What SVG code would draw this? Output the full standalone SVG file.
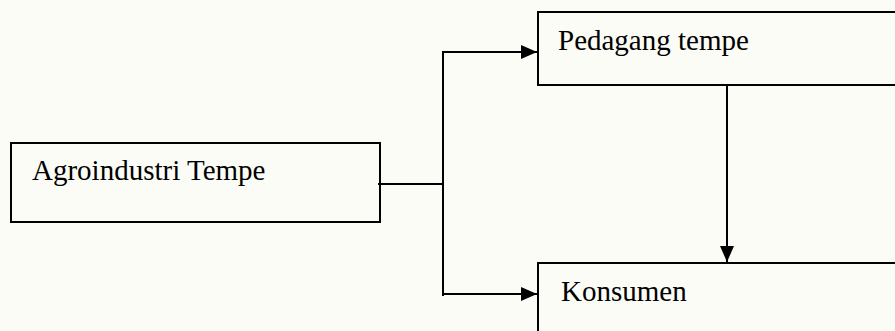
<svg xmlns="http://www.w3.org/2000/svg" width="895" height="331" viewBox="0 0 895 331">
<style>
.box{fill:none;stroke:#000;stroke-width:2}
.lbl{font-family:"Liberation Serif","Times New Roman",serif;font-size:29px;fill:#000}
.ln{fill:none;stroke:#000;stroke-width:2}
</style>
<defs>
<marker id="ah" viewBox="0 0 16 14" refX="16" refY="7" markerWidth="16" markerHeight="14" markerUnits="userSpaceOnUse" orient="auto">
<path d="M0,0 L16,7 L0,14 Z" fill="#000"/>
</marker>
</defs>
<rect width="895" height="331" fill="#fcfcf7"/>
<g id="agroindustri">
<rect class="box" x="11" y="143" width="369" height="79"/>
<text class="lbl" x="32" y="180">Agroindustri Tempe</text>
</g>
<g id="pedagang">
<rect class="box" x="538" y="12" width="370" height="73"/>
<text class="lbl" x="558" y="50">Pedagang tempe</text>
</g>
<g id="konsumen">
<rect class="box" x="538" y="263" width="370" height="80"/>
<text class="lbl" x="561" y="301">Konsumen</text>
</g>
<g id="connectors">
<path class="ln" d="M378,184 H443"/>
<path class="ln" d="M443,52 V296"/>
<path class="ln" d="M442,52 H537" marker-end="url(#ah)"/>
<path class="ln" d="M442,294 H537" marker-end="url(#ah)"/>
<path class="ln" d="M727,85 V262" marker-end="url(#ah)"/>
</g>
</svg>
